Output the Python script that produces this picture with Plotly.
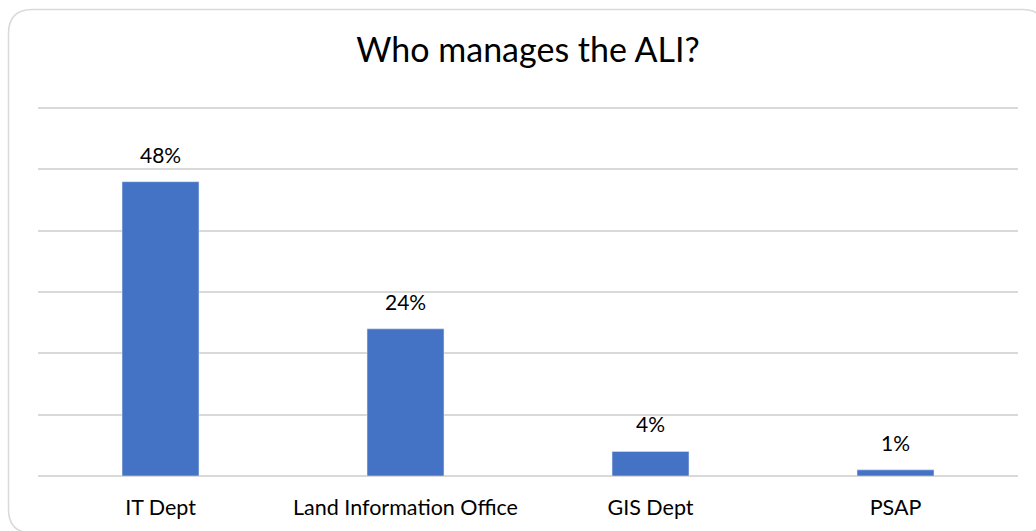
import plotly.graph_objects as go

categories = ["IT Dept", "Land Information Office", "GIS Dept", "PSAP"]
values = [48, 24, 4, 1]
labels = ["48%", "24%", "4%", "1%"]

W, H = 1036, 531
L, R, T, B = 38, 18, 102, 55
pw, ph = W - L - R, H - T - B
YMAX = 61

def px(x):
    return (x - L) / pw

def py(y):
    return (H - B - y) / ph

FONT = "Lato, Calibri, sans-serif"

fig = go.Figure()
fig.add_trace(go.Bar(x=categories, y=values, marker_color="#4472C4", width=0.314,
                     hoverinfo="skip"))

for c, v, t in zip(categories, values, labels):
    fig.add_annotation(x=c, y=v, text=t, showarrow=False, yanchor="bottom", yshift=13,
                       font=dict(family=FONT, size=21, color="#000000"))

# rounded border
x0, x1, y0, y1, r = 8.5, 1046, 9.5, 533, 24
path = (f"M {px(x0+r)},{py(y0)} L {px(x1-r)},{py(y0)} Q {px(x1)},{py(y0)} {px(x1)},{py(y0+r)} "
        f"L {px(x1)},{py(y1-r)} Q {px(x1)},{py(y1)} {px(x1-r)},{py(y1)} "
        f"L {px(x0+r)},{py(y1)} Q {px(x0)},{py(y1)} {px(x0)},{py(y1-r)} "
        f"L {px(x0)},{py(y0+r)} Q {px(x0)},{py(y0)} {px(x0+r)},{py(y0)} Z")
fig.add_shape(type="path", path=path, xref="paper", yref="paper",
              line=dict(color="#D9D9D9", width=1.5), layer="below")

fig.update_layout(
    width=W, height=H,
    margin=dict(l=L, r=R, t=T, b=B),
    paper_bgcolor="white", plot_bgcolor="white",
    title=dict(text="Who manages the ALI?", x=0.5, xref="paper", xanchor="center",
               y=1 - 50 / H, yanchor="middle",
               font=dict(family=FONT, size=34, color="#000000")),
    font=dict(family=FONT, size=21, color="#000000"),
    showlegend=False,
)
fig.update_xaxes(showgrid=False, showline=False, ticks="", tickfont=dict(size=21.5),
                 ticklabelstandoff=16)
fig.update_yaxes(range=[0, YMAX], tickvals=[0, 10, 20, 30, 40, 50, 60], showgrid=True,
                 gridcolor="#D9D9D9", gridwidth=1.5,
                 zeroline=True, zerolinecolor="#D9D9D9", zerolinewidth=1.5,
                 showticklabels=False, ticks="")

fig.write_html("out.html", config={"displayModeBar": False},
               post_script="document.body.style.margin='0';")
